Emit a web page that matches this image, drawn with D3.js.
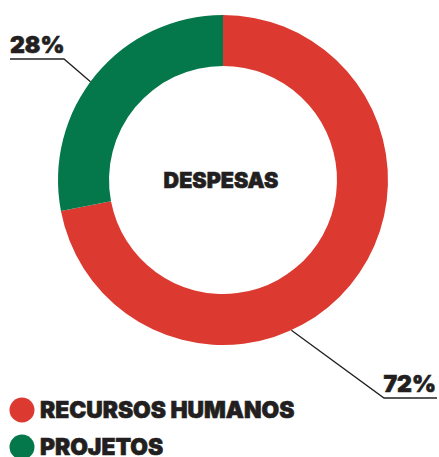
<!DOCTYPE html>
<html>
<head>
<meta charset="utf-8">
<script src="https://cdn.jsdelivr.net/npm/d3@7"></script>
<style>
  body { margin: 0; background: #fff; }
  svg { display: block; }
  text { font-family: Inter, "Liberation Sans", sans-serif; font-weight: 900; fill: #231f20;
         stroke: #231f20; stroke-width: 0.6px; }
</style>
</head>
<body>
<div id="chart"></div>
<script>
// data
const categories = ['RECURSOS HUMANOS', 'PROJETOS'];
const values = [72, 28];
const labels = ['72%', '28%'];
const colors = ['#dc3a30', '#04784a'];
const title = 'DESPESAS';

const width = 439, height = 457;
const cx = 223, cy = 180;
const outerR = 165, innerR = 114;

const svg = d3.select('#chart').append('svg')
    .attr('width', width)
    .attr('height', height);

const pie = d3.pie().sort(null).value(d => d);
const arcs = pie(values);
const arc = d3.arc().innerRadius(innerR).outerRadius(outerR);

const g = svg.append('g').attr('transform', `translate(${cx},${cy})`);

g.selectAll('path.slice')
    .data(arcs)
    .enter().append('path')
    .attr('class', 'slice')
    .attr('d', arc)
    .attr('fill', (d, i) => colors[i]);

g.append('text')
    .attr('text-anchor', 'middle')
    .attr('x', -2)
    .attr('y', 8)
    .style('font-size', '21.5px')
    .text(title);

// leader lines - point on the outer edge, then out to a label
// angle along each slice where the leader leaves (fraction of slice)
const leaderAt = [0.6, 0.47];
// label anchor: [elbow x, elbow y, end x] in page coords
const labelPos = [[384, 398, 437], [64, 59, 10]];

arcs.forEach((d, i) => {
    const a = d.startAngle + (d.endAngle - d.startAngle) * leaderAt[i];
    const p = [cx + outerR * Math.sin(a), cy - outerR * Math.cos(a)];
    const lp = labelPos[i];
    svg.append('polyline')
        .attr('points', [p, [lp[0], lp[1]], [lp[2], lp[1]]].map(q => q.join(',')).join(' '))
        .attr('fill', 'none')
        .attr('stroke', '#231f20')
        .attr('stroke-width', 1.3);
    const right = lp[2] > lp[0];
    svg.append('text')
        .attr('x', right ? lp[2] - 1 : lp[2])
        .attr('y', lp[1] - 6)
        .attr('text-anchor', right ? 'end' : 'start')
        .style('font-size', '23px')
        .text(labels[i]);
});

// legend
const legend = svg.selectAll('g.legend')
    .data(categories)
    .enter().append('g')
    .attr('class', 'legend')
    .attr('transform', (d, i) => `translate(22,${410 + i * 37})`);

legend.append('circle')
    .attr('r', 12.5)
    .attr('fill', (d, i) => colors[i]);

legend.append('text')
    .attr('x', 18)
    .attr('y', 8)
    .style('font-size', '22.8px')
    .text(d => d);
</script>
</body>
</html>
